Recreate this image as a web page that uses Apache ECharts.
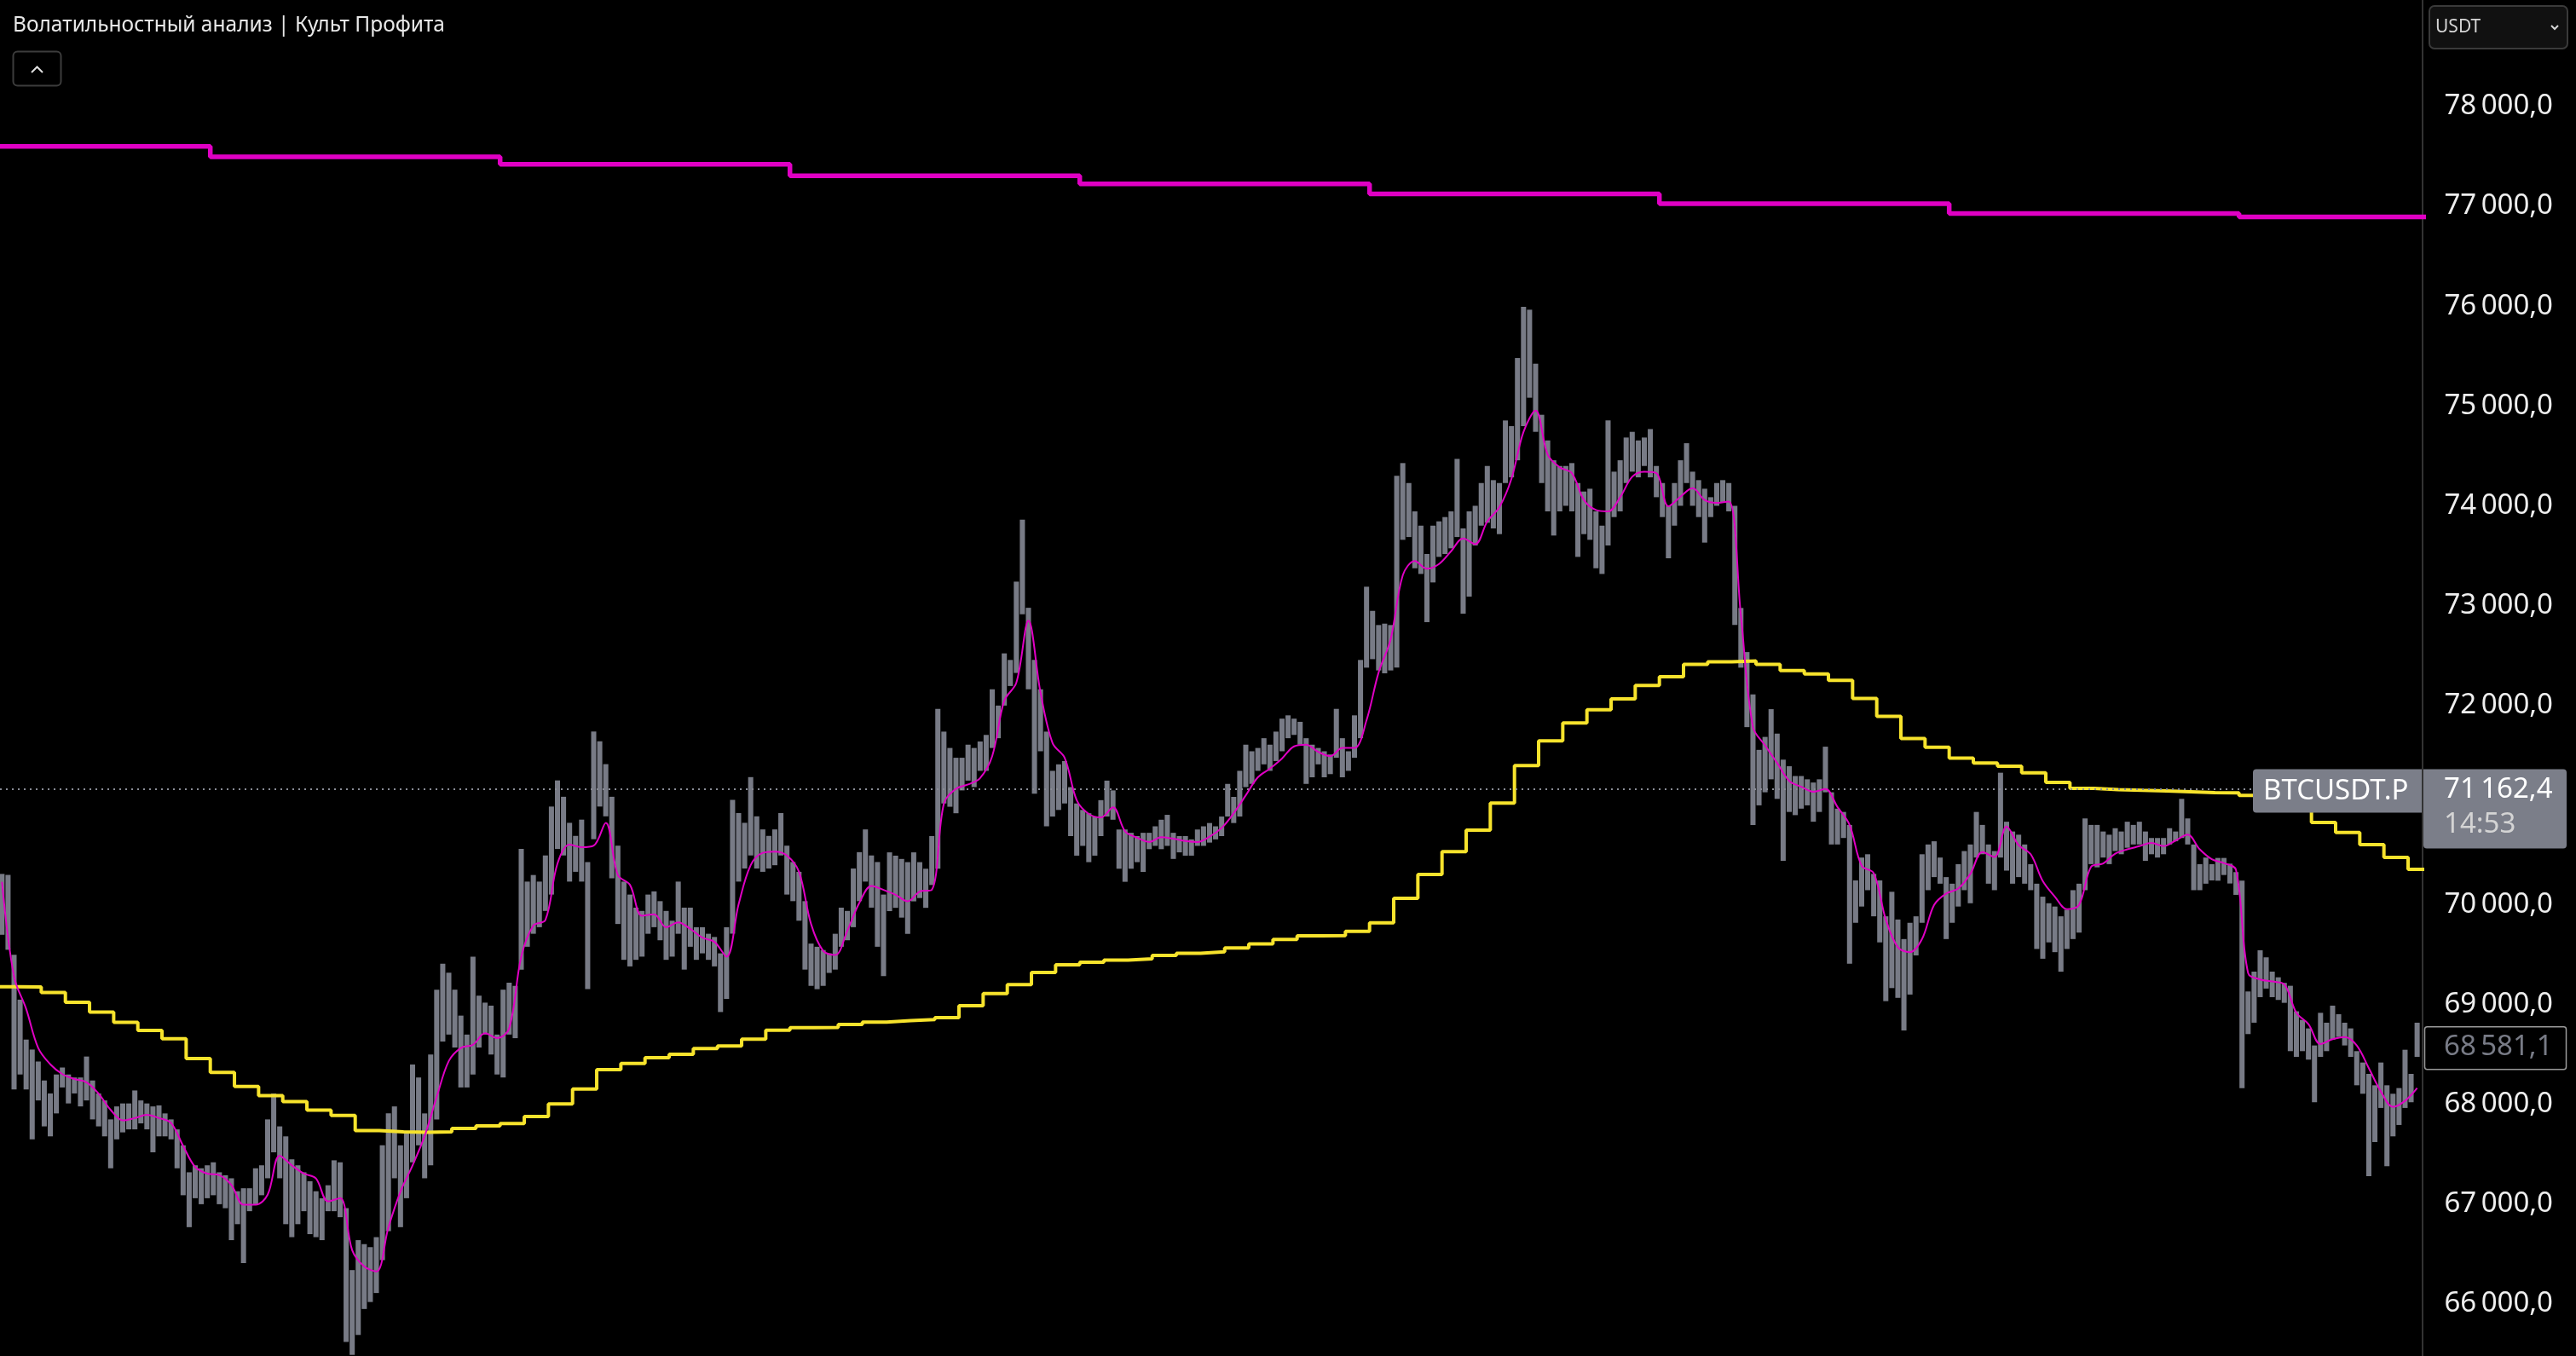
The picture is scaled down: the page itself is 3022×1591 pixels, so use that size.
<!DOCTYPE html>
<html><head><meta charset="utf-8">
<script src="https://cdn.jsdelivr.net/npm/echarts@6/dist/echarts.min.js"></script>
<style>html,body{margin:0;padding:0;background:#000;overflow:hidden}#c{width:3022px;height:1591px}</style>
</head><body><div id="c"></div>
<script>
// ---- DATA (30-minute slots; slot 0 = first day boundary on screen) ----
const BAR_START = -35;
const barHigh = [
70310,70300,69500,69050,68650,68550,68430,68240,68110,68300,
68370,68300,68270,68270,68480,68240,68110,68040,67850,67980,
68010,68010,68140,68040,68010,67980,67990,67910,67850,67750,
67590,67320,67390,67360,67390,67420,67320,67290,67260,67130,
67160,67160,67360,67390,67850,68110,67780,67680,67450,67390,
67320,67230,67130,67060,67190,67440,67420,66960,66340,66640,
66600,66570,66670,67590,67910,67980,67590,67720,68400,68270,
67910,68500,69150,69410,69320,69150,68890,68700,69480,69090,
69020,68990,68700,69150,69220,
69188,70560,70233,70299,70233,70495,70985,71247,71083,70822,
70691,70854,70429,71737,71639,71410,71083,70593,70233,70103,
69972,69939,70103,70135,70037,69939,69841,70233,69972,69972,
69776,69776,69710,69678,69514,69776,71051,70920,70822,71280,
70887,70756,70691,70756,70920,70593,70429,70331,70037,69612,
69580,69547,69514,69710,69972,69939,70364,70528,70756,70495,
70429,70103,
70526,70493,70460,70428,70526,70428,70362,70689,71964,71736,
71572,71474,71474,71605,71572,71637,71703,72160,71997,72520,
72454,73239,73860,72977,72454,72160,71736,71343,71408,71441,
71180,71016,70951,70918,70885,71049,71245,71147,70755,70755,
70722,70689,70722,70722,70787,70853,70902,70722,70689,70689,
70656,70755,70787,70820,70787,70885,71212,71082,71343,71605,
71539,71572,71670,71605,71736,71866,71899,71866,71834,71670,
71605,71572,71539,71507,71964,71670,71539,71899,72454,
73188,72946,72804,72818,72804,74299,74427,74227,73943,73800,
73516,73800,73843,73886,73943,74469,73772,73943,73999,74227,
74398,74256,74227,74854,74797,75480,75993,75964,75423,74911,
74654,74455,74398,74398,74427,74227,74142,74170,73943,73800,
74854,74341,74455,74683,74740,74654,74683,74768,74398,74227,
73999,74227,74455,74626,74341,74256,74170,74085,74227,74256,
74227,73999,72975,
72533,72108,71553,71683,71961,71716,71455,71389,71291,71291,
71258,71226,71258,71585,71128,70964,70931,70801,70245,70474,
70507,70310,70245,69885,70131,69853,69657,69820,69885,70507,
70605,70637,70474,70278,70212,70408,70539,70605,70931,70801,
70605,70539,71324,70833,70735,70703,70605,70408,70212,70082,
70016,69983,69885,69951,70147,70212,70866,70801,70801,70735,
70703,70768,70735,70833,70801,70833,70735,70670,70670,70670,
70768,70735,71062,70866,70605,70408,70474,70408,
70470,70470,70413,70328,70242,69132,69331,69545,69474,69331,
69274,69218,69189,68933,68847,68762,68591,68918,68819,68990,
68904,68819,68762,68534,68420,68306,68192,68420,68192,68107,
68164,68548,68306,68819
];
const barLow = [
69700,69550,68150,68300,68150,67650,68040,67780,67680,67910,
68170,68010,68110,67980,68040,67850,67780,67680,67360,67650,
67720,67750,67750,67810,67750,67520,67680,67680,67650,67360,
67090,66770,67060,67000,67060,67090,67000,66960,66640,66800,
66410,66930,67000,67090,67260,67520,67260,66800,66670,66800,
66930,66700,66670,66640,66930,66930,66870,65620,65490,65690,
65950,66020,66110,66440,66730,67260,66770,67060,67420,67590,
67260,67390,67850,68630,68700,68570,68170,68170,68300,68570,
68700,68500,68300,68270,68700,
68664,69351,69580,69710,69776,69939,70103,70560,70495,70233,
70331,70233,69155,70658,70985,70887,70266,69808,69449,69383,
69449,69481,69710,69776,69645,69449,69481,69710,69351,69580,
69449,69514,69449,69383,68926,69057,69710,70233,70364,70495,
70364,70331,70364,70397,70495,70103,70037,69841,69351,69188,
69155,69188,69318,69351,69580,69645,69776,70037,70233,69972,
69580,69286,
69937,69970,69872,69709,70035,70068,69970,70199,70362,71016,
70983,70918,71147,71245,71180,71343,71343,71572,71670,71997,
72193,72324,72912,72160,71114,71539,70787,70885,70951,71016,
70689,70493,70591,70428,70493,70689,70885,70853,70362,70231,
70362,70428,70330,70558,70591,70558,70591,70460,70526,70493,
70493,70591,70591,70624,70656,70689,70885,70820,70885,71180,
71212,71343,71408,71343,71441,71539,71670,71703,71605,71212,
71278,71408,71278,71310,71474,71278,71343,71474,71670,
72377,72462,72349,72320,72349,72377,73658,73686,73373,73316,
72833,73231,73487,73516,73573,73686,72918,73089,73601,73800,
73829,73772,73715,74227,74284,74455,74797,75082,74740,74227,
73943,73701,73943,73999,73943,73487,73715,73658,73373,73316,
73601,73886,73943,74227,74341,74284,74398,74284,74085,73886,
73473,73800,73999,74227,73999,73886,73630,73886,73999,74028,
73943,72804,72377,
71781,70801,70997,71128,71258,71062,70441,70931,70899,70964,
70997,70833,70931,71128,70605,70605,70670,69411,69820,69983,
70147,69885,69624,69035,69166,69068,68741,69101,69493,69820,
70147,70278,70212,69657,69820,69983,70147,70016,70474,70507,
70212,70147,70474,70343,70212,70278,70212,70147,69558,69460,
69624,69526,69330,69558,69657,69722,70147,70408,70376,70474,
70408,70539,70507,70572,70605,70605,70441,70507,70474,70507,
70605,70637,70670,70605,70147,70147,70212,70245,
70242,70299,70214,70100,68164,68705,68819,69075,69161,69075,
69047,69018,68534,68477,68534,68449,68022,68477,68534,68648,
68676,68591,68477,68192,68107,67281,67623,67965,67381,67680,
67794,67965,68022,68477
];
// thin magenta average, one value per hour (every 2 slots)
const MA_START = -35, MA_STEP = 2;
const maValues = [
70230,69280,68958,68566,68402,68304,68255,68222,68108,67945,
67840,67863,67896,67863,67814,67585,67373,67307,67291,67193,
66996,66996,67095,67487,67389,67307,67258,67029,67062,66539,
66376,66326,66768,67127,67389,67683,68075,68435,68566,68598,
68713,68664,68762,
69480,69792,69848,70413,70603,70577,70593,70822,70299,70201,
69890,69906,69776,69825,69759,69671,69629,69481,70005,70397,
70521,70534,70495,70331,69808,69540,69498,69740,70020,70190,
70150,
70101,70035,70133,70150,71016,71163,71206,71271,71490,72046,
72226,72847,72128,71621,71474,71049,70911,70876,70977,70738,
70673,70630,70679,70663,70640,70630,70683,70771,70918,71098,
71278,71366,71467,71588,71605,71533,71490,71572,71572,
71850,72330,72662,73302,73445,73368,73416,73544,73672,73615,
73843,73985,74270,74740,74953,74512,74384,74327,74057,73957,
73943,74085,74290,74341,74327,73994,74091,74176,74057,74028,
74042,
72900,71781,71598,71422,71242,71183,71134,71160,70980,70801,
70392,70317,69853,69575,69526,69657,69999,70114,70163,70310,
70529,70480,70784,70598,70507,70238,70082,69957,69999,70382,
70415,70513,70556,70588,70621,70588,70644,70703,70556,70457,
70419,70350,69317,69252,69232,69203,68918,68805,68605,68654,
68676,68591,68363,68130,67976,68036,68164
];
// yellow 2-hour step line
const STEP_START = -36, STEP_LEN = 4;
const stepLevels = [
69180,69177,69121,69023,68925,68823,68741,68659,68460,
68320,68179,68088,68029,67944,67889,67739,67725,67720,67725,
67760,67785,67808,67880,68005,68155,68348,68410,68468,68502,
68560,68586,68655,68743,68769,68772,68802,68825,68840,68850,
68870,68990,69110,69200,69322,69400,69425,69447,69458,69493,
69515,69529,69568,69608,69653,69690,69692,69735,69820,70065,
70305,70533,70749,71019,71395,71643,71822,71956,72064,72198,
72286,72411,72435,72444,72411,72348,72313,72250,72069,71889,
71667,71579,71471,71422,71389,71323,71226,71167,71154,71147,
71141,71134,71124,71122,71096,71040,70980,70826,70726,70604,
70476,70356
];
// thick magenta daily step line
const DAY_START = -48, DAY_LEN = 48;
const dayLevels = [77600,77495,77421,77306,77224,77125,77026,76928,76893];
const lastPrice = 71162.4;
const markPrice = 68581.1;
const countdown = '14:53';
const symbolName = 'BTCUSDT.P';
const titleText = 'Волатильностный анализ | Культ Профита';
const currency = 'USDT';

// ---- CHART ----
const X_MIN = -34.83, X_MAX = 366.4;
const FONT = '"Noto Sans", "Open Sans", sans-serif';
function fmt(v, d) {
  const s = Number(v).toFixed(d);
  const parts = s.split('.');
  return parts[0].replace(/\B(?=(\d{3})+(?!\d))/g, '\u2009') + ',' + parts[1];
}
const n = Math.min(barHigh.length, barLow.length);
const barData = [];
for (let i = 0; i < n; i++) barData.push([BAR_START + i + 0.5, barLow[i], barHigh[i]]);
const maData = maValues.map((v, i) => [MA_START + i * MA_STEP + 0.5, v]);
const stepData = stepLevels.map((v, k) => [STEP_START + k * STEP_LEN, v]);
stepData.push([STEP_START + stepLevels.length * STEP_LEN, stepLevels[stepLevels.length - 1]]);
const dayData = dayLevels.map((v, d) => [DAY_START + d * DAY_LEN, v]);
dayData.push([DAY_START + dayLevels.length * DAY_LEN, dayLevels[dayLevels.length - 1]]);

const chart = echarts.init(document.getElementById('c'), null, {renderer: 'canvas'});
chart.setOption({
  backgroundColor: '#000000',
  animation: false,
  grid: {left: 0, right: 180, top: -109.17, bottom: -56.08, containLabel: false, outerBoundsMode: 'none'},
  xAxis: {type: 'value', min: X_MIN, max: X_MAX, show: false},
  yAxis: {
    type: 'value', position: 'right', min: 65000, max: 80000, interval: 1000,
    splitLine: {show: false}, axisTick: {show: false},
    axisLine: {show: true, onZero: false, lineStyle: {color: '#333333', width: 2}},
    axisLabel: {
      align: 'right', margin: 153, color: '#eeeeee', fontSize: 33, fontFamily: FONT,
      formatter: v => (v >= 79000 || v <= 65000) ? '' : fmt(v, 1)
    }
  },
  series: [
    {
      type: 'custom', z: 2, clip: true,
      encode: {x: 0, y: [1, 2]},
      data: barData,
      renderItem: (params, api) => {
        const x = api.value(0);
        const top = api.coord([x, api.value(2)]);
        const bot = api.coord([x, api.value(1)]);
        const w = api.size([1, 0])[0] * 0.85;
        return {type: 'rect', shape: {x: top[0] - w / 2, y: top[1], width: w, height: Math.max(1, bot[1] - top[1])},
          style: {fill: '#787b86'}};
      }
    },
    {
      type: 'line', z: 3, step: 'end', data: dayData, symbol: 'none', clip: true,
      lineStyle: {color: '#e000c4', width: 5.5}
    },
    {
      type: 'line', z: 4, step: 'end', data: stepData, symbol: 'none', clip: true,
      lineStyle: {color: '#f7e32c', width: 4}
    },
    {
      type: 'line', z: 5, data: maData, symbol: 'none', smooth: 0.35, clip: true,
      lineStyle: {color: '#e000c4', width: 2},
      markLine: {
        silent: true, symbol: ['none', 'none'], label: {show: false},
        lineStyle: {color: '#8a8d96', type: [2, 5], width: 2},
        data: [{yAxis: lastPrice}]
      }
    }
  ]
});

const py = v => chart.convertToPixel({yAxisIndex: 0}, v);
const yL = py(lastPrice), yM = py(markPrice);
chart.setOption({
  graphic: [
    {type: 'text', x: 15, y: 30, z: 100, style: {text: titleText, font: '24.5px ' + FONT, fill: '#e8e8e8', verticalAlign: 'middle'}},
    {type: 'rect', z: 100, shape: {x: 15.5, y: 60.5, width: 56, height: 40, r: 5}, style: {fill: 'none', stroke: '#3c3c3c', lineWidth: 2}},
    {type: 'polyline', z: 101, shape: {points: [[37, 85], [43.5, 78.5], [50, 85]]}, style: {stroke: '#e0e0e0', lineWidth: 2, fill: null}},
    {type: 'rect', z: 100, shape: {x: 2850, y: 7, width: 162, height: 50, r: 6}, style: {fill: '#111111', stroke: '#3a3a3a', lineWidth: 2}},
    {type: 'text', x: 2857, y: 32, z: 101, style: {text: currency, font: '21px ' + FONT, fill: '#d6d6d6', verticalAlign: 'middle'}},
    {type: 'polyline', z: 101, shape: {points: [[2993, 30], [2997, 34], [3001, 30]]}, style: {stroke: '#d6d6d6', lineWidth: 2, fill: null}},
    {type: 'rect', z: 100, shape: {x: 2643, y: yL - 23, width: 198, height: 51, r: [4, 0, 0, 4]}, style: {fill: '#7b7e89'}},
    {type: 'text', x: 2655, y: yL + 3, z: 101, style: {text: symbolName, font: '33px ' + FONT, fill: '#ffffff', verticalAlign: 'middle'}},
    {type: 'rect', z: 100, shape: {x: 2843, y: yL - 23, width: 168, height: 93, r: [0, 4, 4, 4]}, style: {fill: '#7b7e89'}},
    {type: 'text', x: 2867, y: yL + 1, z: 101, style: {text: fmt(lastPrice, 1), font: '33px ' + FONT, fill: '#ffffff', verticalAlign: 'middle'}},
    {type: 'text', x: 2867, y: yL + 42, z: 101, style: {text: countdown, font: '33px ' + FONT, fill: '#d4d4d4', verticalAlign: 'middle'}},
    {type: 'rect', z: 100, shape: {x: 2844.5, y: yM - 23, width: 166, height: 50, r: 3}, style: {fill: '#000000', stroke: '#9a9a9a', lineWidth: 1.5}},
    {type: 'text', x: 2867, y: yM + 1, z: 101, style: {text: fmt(markPrice, 1), font: '33px ' + FONT, fill: '#787b86', verticalAlign: 'middle'}}
  ]
});
</script>
</body></html>
